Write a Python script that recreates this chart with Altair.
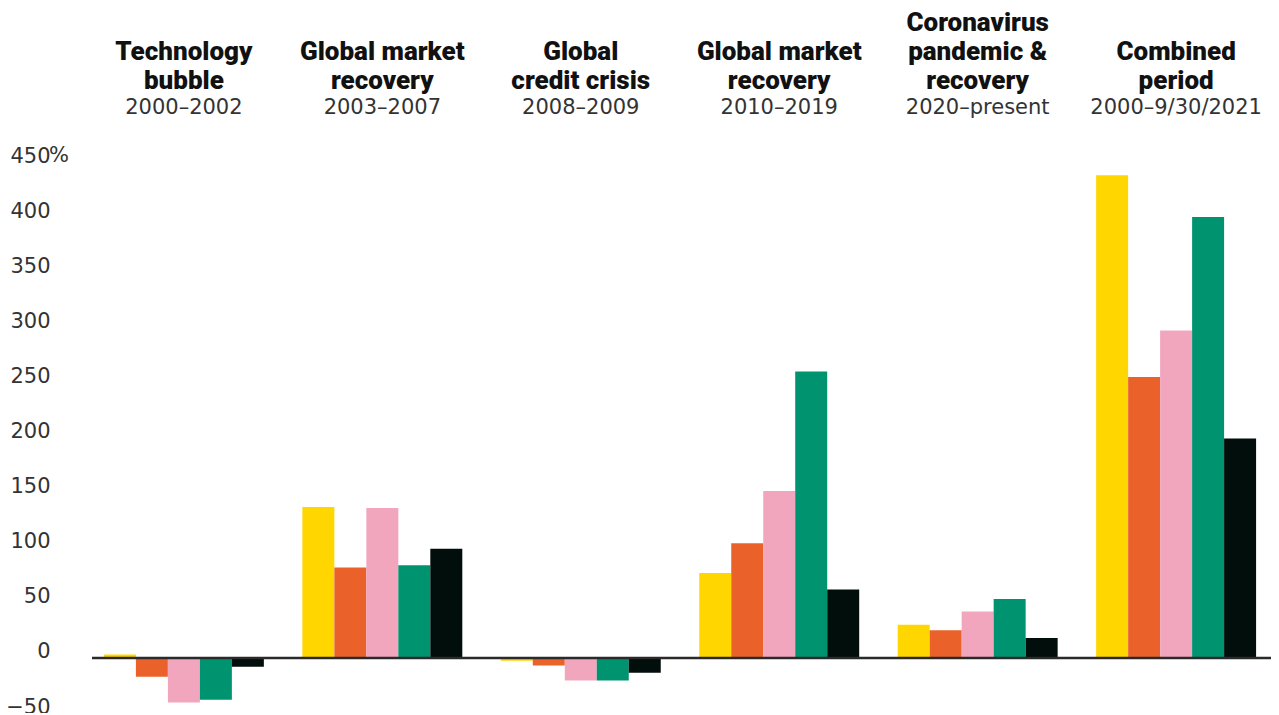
import altair as alt
import pandas as pd

# ---- data ----
periods = ["2000–2002", "2003–2007", "2008–2009", "2010–2019", "2020–present", "2000–9/30/2021"]
bold_line1 = ["", "", "", "", "Coronavirus", ""]
bold_line2 = ["Technology", "Global market", "Global", "Global market", "pandemic &", "Combined"]
bold_line3 = ["bubble", "recovery", "credit crisis", "recovery", "recovery", "period"]
series = ["Series 1", "Series 2", "Series 3", "Series 4", "Series 5"]
colors = ["#FFD600", "#EA6229", "#F2A6BD", "#00936F", "#020E0C"]

s1 = [3, 137, -2.5, 77, 30, 438]
s2 = [-17, 82, -7, 104, 25, 255]
s3 = [-40.5, 136, -20.5, 151.5, 42, 297]
s4 = [-38, 84, -20.5, 260, 53.5, 400]
s5 = [-8, 99, -13.5, 62, 18, 199]

y_ticks = [-50, 0, 50, 100, 150, 200, 250, 300, 350, 400, 450]

rows = []
for name, vals in zip(series, [s1, s2, s3, s4, s5]):
    for p, v in zip(periods, vals):
        rows.append({"period": p, "series": name, "value": v})
df = pd.DataFrame(rows)
hdr = pd.DataFrame({"period": periods, "l1": bold_line1, "l2": bold_line2,
                    "l3": bold_line3, "years": periods})

W = 1176
H = 551

xenc = alt.X("period:N", sort=periods, axis=None,
             scale=alt.Scale(paddingInner=0.194, paddingOuter=0.06))

bars = alt.Chart(df).mark_bar().encode(
    x=xenc,
    xOffset=alt.XOffset("series:N", sort=series,
                        scale=alt.Scale(paddingInner=0, paddingOuter=0)),
    y=alt.Y("value:Q",
            scale=alt.Scale(domain=[-50, 450], nice=False, zero=False),
            axis=alt.Axis(values=y_ticks, grid=False, domain=False, ticks=False,
                          tickSize=0, labelPadding=42, labelFontSize=21,
                          labelFont="DejaVu Sans", labelColor="#333333",
                          labelOffset=-6, title=None, labelAlign="right")),
    color=alt.Color("series:N", scale=alt.Scale(domain=series, range=colors),
                    legend=None),
)

zero = alt.Chart(pd.DataFrame({"z": [0]})).mark_rule(
    color="#2a2a2a", strokeWidth=2.5
).encode(y="z:Q", x=alt.value(0), x2=alt.value(W + 3))

pct = alt.Chart(pd.DataFrame({"v": [450]})).mark_text(
    text="%", align="left", baseline="middle", dy=-6, fontSize=21,
    font="DejaVu Sans", color="#333333"
).encode(y="v:Q", x=alt.value(-43))


def bold_layer(field, ypos):
    return alt.Chart(hdr).mark_text(
        baseline="alphabetic", align="center", fontSize=26,
        fontWeight=900, font="Roboto", color="#111111"
    ).encode(x=xenc, y=alt.value(ypos), text=f"{field}:N")


years = alt.Chart(hdr).mark_text(
    baseline="alphabetic", align="center", fontSize=21,
    font="DejaVu Sans", color="#333333"
).encode(x=xenc, y=alt.value(-48), text="years:N")

chart = alt.layer(
    bars, zero, pct,
    bold_layer("l1", -131), bold_layer("l2", -102), bold_layer("l3", -73),
    years,
).properties(
    width=W, height=H,
    autosize=alt.AutoSizeParams(type="none"),
    padding={"left": 84, "top": 154, "right": 3, "bottom": 0},
).configure_view(stroke=None)

chart.save("out.html", embed_options={"renderer": "svg", "actions": False})
